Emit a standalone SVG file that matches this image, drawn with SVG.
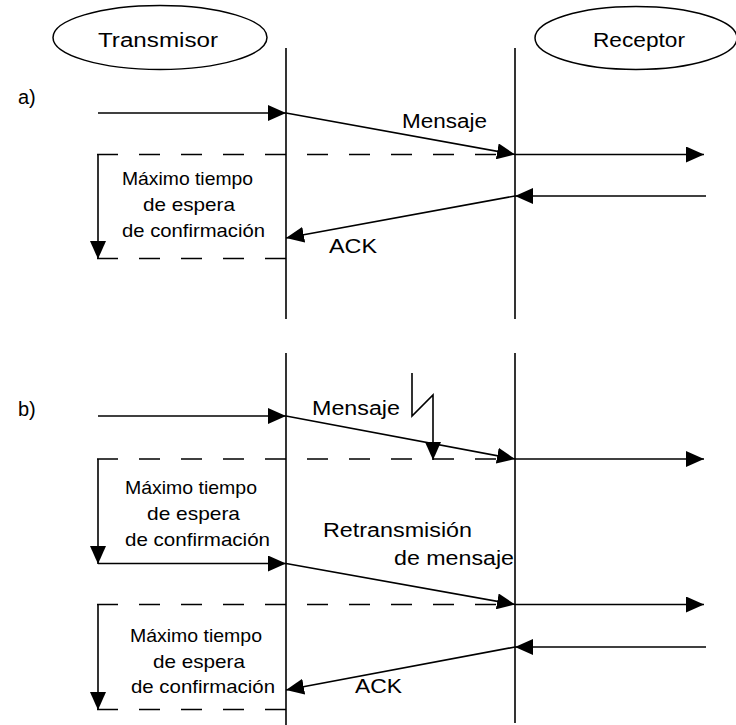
<svg xmlns="http://www.w3.org/2000/svg" width="736" height="725" viewBox="0 0 736 725">
  <style>
    .bg { fill: #ffffff; }
    .actor { fill: none; stroke: #000; stroke-width: 1.5; }
    .life { stroke: #000; stroke-width: 1.6; fill: none; }
    .msg { stroke: #000; stroke-width: 1.6; fill: none; marker-end: url(#head); }
    .plain { stroke: #000; stroke-width: 1.6; fill: none; }
    .dash { stroke: #000; stroke-width: 1.6; fill: none; stroke-dasharray: 21 21; }
    text { font-family: "Liberation Sans", Arial, sans-serif; fill: #000; }
    .big { font-size: 20px; }
    .box { font-size: 18.5px; }
  </style>
  <defs>
    <marker id="head" markerUnits="userSpaceOnUse" markerWidth="19" markerHeight="16" refX="18" refY="8" orient="auto">
      <path d="M0,0 L18,8 L0,16 z" fill="#000"/>
    </marker>
  </defs>
  <rect class="bg" x="0" y="0" width="736" height="725"/>

  <!-- participants -->
  <g id="transmisor">
    <ellipse class="actor" cx="160" cy="37.5" rx="107" ry="32"/>
    <text class="big" x="98" y="47" textLength="120" lengthAdjust="spacingAndGlyphs">Transmisor</text>
  </g>
  <g id="receptor">
    <ellipse class="actor" cx="636" cy="38" rx="101" ry="31.5"/>
    <text class="big" x="593" y="47" textLength="92" lengthAdjust="spacingAndGlyphs">Receptor</text>
  </g>

  <!-- lifelines -->
  <g id="lifelines">
    <line class="life" x1="286" y1="48" x2="286" y2="319"/>
    <line class="life" x1="515" y1="48" x2="515" y2="319"/>
    <line class="life" x1="286" y1="353" x2="286" y2="725"/>
    <line class="life" x1="515" y1="353" x2="515" y2="723"/>
  </g>

  <!-- case a -->
  <g id="case-a">
    <text class="big" x="18" y="104">a)</text>
    <text class="big" x="402" y="128" textLength="85" lengthAdjust="spacingAndGlyphs">Mensaje</text>
    <text class="box" x="122" y="185" textLength="131" lengthAdjust="spacingAndGlyphs">Máximo tiempo</text>
    <text class="box" x="143" y="211" textLength="92" lengthAdjust="spacingAndGlyphs">de espera</text>
    <text class="box" x="122" y="237" textLength="143" lengthAdjust="spacingAndGlyphs">de confirmación</text>
    <text class="big" x="329" y="253" textLength="48" lengthAdjust="spacingAndGlyphs">ACK</text>
  </g>

  <!-- case b -->
  <g id="case-b">
    <text class="big" x="18" y="416">b)</text>
    <text class="big" x="312" y="415" textLength="88" lengthAdjust="spacingAndGlyphs">Mensaje</text>
    <text class="box" x="125" y="494" textLength="132" lengthAdjust="spacingAndGlyphs">Máximo tiempo</text>
    <text class="box" x="147" y="520" textLength="93" lengthAdjust="spacingAndGlyphs">de espera</text>
    <text class="box" x="125" y="546" textLength="145" lengthAdjust="spacingAndGlyphs">de confirmación</text>
    <text class="big" x="323" y="537" textLength="149" lengthAdjust="spacingAndGlyphs">Retransmisión</text>
    <text class="big" x="394" y="565" textLength="120" lengthAdjust="spacingAndGlyphs">de mensaje</text>
    <text class="box" x="130" y="642" textLength="132" lengthAdjust="spacingAndGlyphs">Máximo tiempo</text>
    <text class="box" x="153" y="668" textLength="92" lengthAdjust="spacingAndGlyphs">de espera</text>
    <text class="box" x="131" y="693" textLength="144" lengthAdjust="spacingAndGlyphs">de confirmación</text>
    <text class="big" x="355" y="693" textLength="47" lengthAdjust="spacingAndGlyphs">ACK</text>
  </g>

  <!-- connectors -->
  <g id="connectors">
    <!-- a) message and acknowledgement -->
    <line class="msg" x1="98" y1="113" x2="286" y2="113"/>
    <line class="msg" x1="286" y1="113" x2="515" y2="154.5"/>
    <line class="dash" x1="97" y1="154.5" x2="515" y2="154.5"/>
    <line class="msg" x1="98" y1="154" x2="98" y2="259"/>
    <line class="dash" x1="97" y1="258.5" x2="286" y2="258.5"/>
    <line class="msg" x1="515" y1="154.5" x2="704" y2="154.5"/>
    <line class="msg" x1="706" y1="196" x2="515" y2="196"/>
    <line class="msg" x1="515" y1="196" x2="286" y2="238"/>

    <!-- b) lost message, timeout, retransmission -->
    <line class="msg" x1="98" y1="416" x2="286" y2="416"/>
    <line class="msg" x1="286" y1="416" x2="515" y2="459"/>
    <path class="msg" d="M412,373 L412,416 L433,395 L433,460"/>
    <line class="dash" x1="97" y1="459" x2="515" y2="459"/>
    <line class="msg" x1="98" y1="459" x2="98" y2="564"/>
    <line class="msg" x1="98" y1="563.5" x2="286" y2="563.5"/>
    <line class="msg" x1="515" y1="459" x2="704" y2="459"/>
    <line class="msg" x1="286" y1="563.5" x2="515" y2="604.5"/>
    <line class="dash" x1="97" y1="604.5" x2="515" y2="604.5"/>
    <line class="msg" x1="98" y1="604.5" x2="98" y2="710"/>
    <line class="dash" x1="97" y1="709.5" x2="286" y2="709.5"/>
    <line class="msg" x1="515" y1="604.5" x2="704" y2="604.5"/>
    <line class="msg" x1="706" y1="647" x2="515" y2="647"/>
    <line class="msg" x1="515" y1="647" x2="286" y2="690"/>
  </g>
</svg>
